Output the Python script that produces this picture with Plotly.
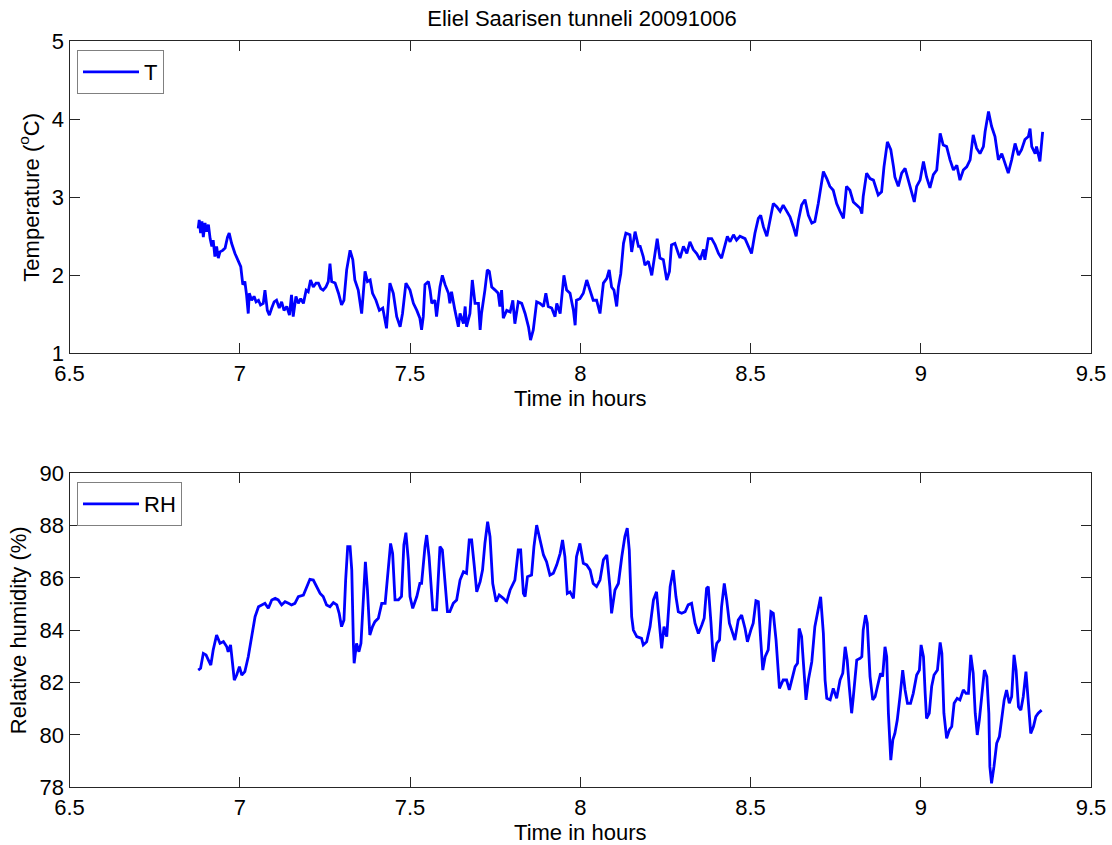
import plotly.graph_objects as go

# Temperature record (hours, degC)
t_time = [6.878, 6.881, 6.885, 6.889, 6.893, 6.898, 6.903, 6.908, 6.913, 6.918, 6.922, 6.927, 6.932, 6.937,
          6.942, 6.950, 6.957, 6.964, 6.969, 6.976, 6.986, 6.996, 7.003, 7.009, 7.015, 7.020, 7.025, 7.028,
          7.035, 7.042, 7.048, 7.055, 7.061, 7.069, 7.074, 7.081, 7.087, 7.094, 7.101, 7.108, 7.116, 7.123,
          7.130, 7.138, 7.146, 7.152, 7.157, 7.165, 7.172, 7.179, 7.187, 7.195, 7.201, 7.208, 7.216, 7.224,
          7.231, 7.238, 7.245, 7.253, 7.260, 7.265, 7.270, 7.280, 7.290, 7.299, 7.306, 7.314, 7.324, 7.332,
          7.338, 7.348, 7.358, 7.368, 7.375, 7.383, 7.390, 7.400, 7.410, 7.420, 7.427, 7.431, 7.441, 7.451,
          7.461, 7.471, 7.478, 7.488, 7.500, 7.510, 7.520, 7.529,
          7.534, 7.539, 7.544, 7.554, 7.559, 7.564, 7.573, 7.578, 7.588, 7.595, 7.603, 7.613, 7.617, 7.622,
          7.632, 7.642, 7.647, 7.657, 7.662, 7.666, 7.676, 7.683, 7.691, 7.701, 7.706, 7.710, 7.720, 7.727,
          7.733, 7.740, 7.750, 7.759, 7.764, 7.769, 7.774, 7.784, 7.794, 7.802, 7.808, 7.818, 7.828, 7.838,
          7.848, 7.854, 7.862, 7.872, 7.882, 7.892, 7.899, 7.906, 7.916, 7.926, 7.931, 7.941, 7.952, 7.960,
          7.970, 7.980, 7.985, 7.989, 7.999, 8.009, 8.019, 8.029, 8.038, 8.048, 8.058, 8.068, 8.078, 8.085,
          8.092, 8.099, 8.107, 8.112, 8.119, 8.127, 8.134, 8.146, 8.151, 8.161, 8.171,
          8.176, 8.185, 8.190, 8.200, 8.210, 8.220, 8.226, 8.234, 8.244, 8.254, 8.262, 8.268, 8.278, 8.288,
          8.293, 8.303, 8.313, 8.322, 8.332, 8.342, 8.352, 8.362, 8.366, 8.376, 8.386, 8.396, 8.406, 8.415,
          8.425, 8.432, 8.440, 8.450, 8.459, 8.469, 8.484, 8.494, 8.503, 8.513, 8.523, 8.530, 8.538, 8.548,
          8.557, 8.567, 8.577, 8.587, 8.596, 8.606, 8.616, 8.626, 8.634, 8.641, 8.650, 8.660, 8.670, 8.680,
          8.689, 8.699, 8.709, 8.714, 8.724, 8.733, 8.743, 8.753, 8.763, 8.773, 8.782, 8.792, 8.802, 8.812,
          8.822,
          8.827, 8.831, 8.841, 8.851, 8.861, 8.871, 8.875, 8.885, 8.892, 8.902, 8.912, 8.920, 8.924, 8.934,
          8.944, 8.954, 8.964, 8.973, 8.981, 8.988, 8.998, 9.008, 9.017, 9.027, 9.037, 9.047, 9.057, 9.066,
          9.076, 9.086, 9.096, 9.106, 9.115, 9.125, 9.135, 9.145, 9.154, 9.164, 9.174, 9.184, 9.189, 9.199,
          9.208, 9.218, 9.228, 9.238, 9.247, 9.257, 9.267, 9.277, 9.287, 9.296, 9.306, 9.316, 9.321, 9.326,
          9.336, 9.340, 9.350, 9.355, 9.358]
temperature = [2.60, 2.71, 2.54, 2.69, 2.49, 2.67, 2.56, 2.65, 2.47, 2.37, 2.45, 2.24, 2.37, 2.22,
               2.30, 2.32, 2.35, 2.49, 2.54, 2.41, 2.28, 2.17, 2.11, 1.88, 1.92, 1.75, 1.51, 1.77,
               1.68, 1.73, 1.66, 1.68, 1.62, 1.64, 1.81, 1.55, 1.49, 1.58, 1.66, 1.68, 1.58, 1.66,
               1.55, 1.60, 1.49, 1.75, 1.47, 1.73, 1.64, 1.70, 1.64, 1.81, 1.79, 1.94, 1.85, 1.90,
               1.90, 1.83, 1.81, 1.85, 1.92, 2.15, 1.92, 1.90, 1.77, 1.62, 1.68, 2.07, 2.32, 2.20,
               1.94, 1.81, 1.51, 2.05, 1.92, 1.94, 1.77, 1.68, 1.55, 1.58, 1.43, 1.32, 1.90, 1.77,
               1.47, 1.34, 1.51, 1.90, 1.81, 1.64, 1.55, 1.45,
               1.30, 1.47, 1.88, 1.92, 1.81, 1.64, 1.68, 1.47, 1.85, 2.00, 1.88, 1.77, 1.64, 1.79,
               1.55, 1.34, 1.51, 1.38, 1.60, 1.34, 1.51, 1.94, 1.64, 1.64, 1.30, 1.51, 1.81, 2.07,
               2.05, 1.85, 1.81, 1.77, 1.60, 1.81, 1.45, 1.55, 1.53, 1.68, 1.38, 1.66, 1.64, 1.51,
               1.34, 1.17, 1.30, 1.66, 1.64, 1.60, 1.77, 1.60, 1.58, 1.47, 1.64, 1.51, 2.00, 1.81,
               1.77, 1.55, 1.36, 1.68, 1.70, 1.77, 1.94, 1.81, 1.68, 1.68, 1.51, 1.90, 1.96, 2.07,
               1.85, 1.81, 1.60, 1.85, 2.02, 2.41, 2.54, 2.52, 2.30, 2.56, 2.37,
               2.37, 2.24, 2.13, 2.18, 2.00, 2.28, 2.47, 2.22, 2.20, 1.94, 2.05, 2.39, 2.41, 2.28,
               2.22, 2.37, 2.28, 2.43, 2.33, 2.28, 2.20, 2.33, 2.20, 2.47, 2.47, 2.39, 2.28, 2.22,
               2.39, 2.50, 2.43, 2.52, 2.45, 2.50, 2.47, 2.37, 2.28, 2.54, 2.73, 2.77, 2.62, 2.50,
               2.69, 2.92, 2.88, 2.82, 2.90, 2.82, 2.75, 2.62, 2.50, 2.71, 2.90, 2.97, 2.77, 2.67,
               2.69, 2.92, 3.18, 3.33, 3.24, 3.14, 3.09, 2.92, 2.82, 2.73, 3.14, 3.09, 2.94, 2.90,
               2.86,
               2.79, 3.01, 3.31, 3.24, 3.22, 3.09, 3.03, 3.07, 3.39, 3.71, 3.61, 3.39, 3.26, 3.14,
               3.31, 3.37, 3.22, 3.09, 2.94, 3.14, 3.22, 3.46, 3.26, 3.12, 3.29, 3.35, 3.82, 3.67,
               3.65, 3.48, 3.35, 3.41, 3.22, 3.35, 3.39, 3.48, 3.80, 3.63, 3.56, 3.65, 3.84, 4.10,
               3.91, 3.78, 3.48, 3.56, 3.44, 3.31, 3.48, 3.69, 3.54, 3.61, 3.74, 3.78, 3.88, 3.65,
               3.56, 3.65, 3.46, 3.65, 3.84]

# Relative humidity record (hours, %)
rh_time = [6.878, 6.885, 6.893, 6.901, 6.908, 6.915, 6.922, 6.932, 6.942, 6.952, 6.962, 6.966, 6.973, 6.979,
           6.984, 6.991, 6.999, 7.006, 7.015, 7.025, 7.035, 7.045, 7.055, 7.064, 7.074, 7.084, 7.094, 7.104,
           7.113, 7.123, 7.133, 7.143, 7.152, 7.162, 7.172, 7.187, 7.196, 7.206, 7.216, 7.226, 7.236, 7.245,
           7.255, 7.265, 7.275, 7.285, 7.292, 7.299, 7.306, 7.311, 7.317, 7.324, 7.329, 7.334, 7.336, 7.343,
           7.350, 7.356, 7.363, 7.369, 7.375, 7.382, 7.390, 7.397, 7.407, 7.417, 7.427, 7.436, 7.443, 7.449,
           7.456, 7.466, 7.475, 7.482, 7.488, 7.495, 7.500, 7.508, 7.520, 7.529,
           7.534, 7.544, 7.549, 7.556, 7.561, 7.567, 7.578, 7.588, 7.595, 7.603, 7.610, 7.617, 7.627, 7.637,
           7.647, 7.657, 7.666, 7.674, 7.681, 7.689, 7.696, 7.706, 7.713, 7.720, 7.728, 7.735, 7.743, 7.753,
           7.762, 7.774, 7.784, 7.794, 7.808, 7.818, 7.825, 7.833, 7.838, 7.845, 7.857, 7.864, 7.872, 7.882,
           7.892, 7.901, 7.911, 7.921, 7.931, 7.941, 7.948, 7.955, 7.962, 7.970, 7.980, 7.989, 7.999, 8.009,
           8.019, 8.029, 8.038, 8.048, 8.058, 8.068, 8.078, 8.087, 8.092, 8.102, 8.112, 8.122, 8.131, 8.138,
           8.144, 8.151, 8.156, 8.166, 8.180,
           8.185, 8.195, 8.205, 8.215, 8.224, 8.232, 8.239, 8.246, 8.254, 8.264, 8.273, 8.281, 8.288, 8.298,
           8.308, 8.317, 8.327, 8.337, 8.347, 8.357, 8.364, 8.371, 8.376, 8.384, 8.391, 8.401, 8.409, 8.415,
           8.423, 8.430, 8.438, 8.448, 8.454, 8.464, 8.474, 8.484, 8.491, 8.501, 8.508, 8.516, 8.523, 8.530,
           8.536, 8.543, 8.552, 8.560, 8.567, 8.575, 8.585, 8.596, 8.606, 8.614, 8.621, 8.631, 8.638, 8.643,
           8.650, 8.657, 8.663, 8.670, 8.680, 8.689, 8.699, 8.706, 8.714, 8.719, 8.724, 8.734, 8.743, 8.753,
           8.763, 8.771, 8.778, 8.784, 8.790, 8.797, 8.802, 8.812, 8.822,
           8.827, 8.831, 8.838, 8.843, 8.851, 8.859, 8.866, 8.875, 8.882, 8.888, 8.895, 8.900, 8.905, 8.912,
           8.918, 8.924, 8.931, 8.939, 8.947, 8.954, 8.961, 8.970, 8.978, 8.988, 8.996, 9.001, 9.008, 9.013,
           9.017, 9.025, 9.032, 9.039, 9.049, 9.057, 9.062, 9.068, 9.076, 9.084, 9.091, 9.098, 9.107, 9.115,
           9.125, 9.133, 9.140, 9.147, 9.154, 9.160, 9.166, 9.172, 9.179, 9.187, 9.194, 9.200, 9.203, 9.208,
           9.215, 9.223, 9.231, 9.238, 9.245, 9.252, 9.260, 9.267, 9.274, 9.280, 9.287, 9.294, 9.301, 9.309,
           9.316, 9.323, 9.331, 9.338, 9.345, 9.355]
humidity = [82.48, 82.55, 83.12, 83.06, 82.86, 82.67, 83.25, 83.82, 83.50, 83.57, 83.37, 83.18, 83.44, 82.61,
            82.10, 82.29, 82.61, 82.29, 82.42, 82.99, 83.76, 84.52, 84.90, 84.97, 85.03, 84.84, 85.16, 85.22,
            85.16, 84.97, 85.09, 85.03, 84.97, 85.03, 85.29, 85.35, 85.67, 85.95, 85.92, 85.67, 85.41, 85.29,
            84.97, 84.90, 85.06, 84.97, 84.65, 84.14, 84.39, 85.92, 87.20, 87.20, 86.30, 83.37, 82.74, 83.50,
            83.18, 83.50, 85.29, 86.62, 85.54, 83.82, 84.14, 84.33, 84.46, 85.03, 85.03, 86.43, 87.32, 86.94,
            85.16, 85.16, 85.29, 87.26, 87.73, 86.69, 85.29, 84.84, 85.29, 85.79,
            85.79, 87.20, 87.64, 86.81, 85.67, 84.78, 84.78, 87.20, 87.07, 85.92, 84.71, 84.71, 85.03, 85.16,
            85.92, 86.24, 86.18, 87.45, 87.45, 86.43, 85.47, 85.86, 86.30, 87.32, 88.15, 87.58, 85.79, 85.09,
            85.35, 85.22, 85.09, 85.54, 85.92, 87.07, 87.07, 85.41, 85.29, 86.05, 86.11, 87.20, 88.02, 87.45,
            86.88, 86.62, 86.11, 86.18, 86.50, 86.94, 87.45, 86.81, 85.41, 85.47, 85.22, 86.81, 87.32, 86.56,
            86.50, 86.30, 85.79, 85.67, 85.92, 86.69, 86.88, 85.67, 84.65, 85.54, 85.79, 86.81, 87.58, 87.90,
            87.07, 84.52, 84.01, 83.76, 83.69,
            83.44, 83.56, 84.14, 85.16, 85.47, 84.39, 83.31, 84.14, 83.76, 85.67, 86.30, 85.29, 84.71, 84.65,
            84.71, 84.97, 85.03, 84.27, 83.88, 84.20, 84.46, 85.60, 85.67, 84.27, 82.80, 83.50, 83.63, 84.90,
            85.79, 85.16, 84.27, 83.88, 83.63, 84.39, 84.58, 84.07, 83.56, 84.01, 84.27, 85.13, 85.09, 83.63,
            82.48, 82.99, 83.25, 84.71, 84.65, 83.63, 81.78, 82.10, 82.10, 81.72, 82.10, 82.61, 82.74, 84.07,
            83.76, 82.61, 81.34, 82.10, 82.80, 84.14, 84.90, 85.28, 83.88, 82.10, 81.40, 81.34, 81.78, 81.40,
            82.10, 82.36, 83.37, 82.86, 81.85, 80.83, 81.46, 82.86, 82.93,
            82.99, 84.01, 84.58, 84.27, 82.23, 81.34, 81.46, 81.97, 82.36, 82.23, 83.37, 82.99, 80.83, 79.04,
            79.81, 80.06, 80.57, 81.46, 82.48, 81.72, 81.21, 81.21, 81.59, 82.29, 82.48, 83.44, 82.99, 81.59,
            80.63, 80.83, 81.85, 82.29, 82.48, 83.54, 83.12, 80.83, 79.87, 80.19, 80.32, 81.21, 81.40, 81.34,
            81.72, 81.59, 81.59, 83.06, 82.36, 80.83, 80.00, 80.57, 81.59, 82.48, 82.23, 80.83, 78.79, 78.15,
            78.79, 79.68, 79.94, 80.57, 81.34, 81.72, 81.21, 81.46, 83.06, 82.48, 81.08, 80.95, 81.46, 82.42,
            81.34, 80.06, 80.32, 80.70, 80.83, 80.95]

x_ticks = [6.5, 7, 7.5, 8, 8.5, 9, 9.5]
t_ticks = [1, 2, 3, 4, 5]
rh_ticks = [78, 80, 82, 84, 86, 88, 90]

W, H = 1112, 845
FONT = "Liberation Sans, Arial, Helvetica, sans-serif"
FS = 22
AX = "#262626"
BLUE = "#0000ff"

fig = go.Figure()
fig.add_trace(go.Scatter(x=t_time, y=temperature, mode="lines", name="T",
                         line=dict(color=BLUE, width=2.8), xaxis="x", yaxis="y", legend="legend"))
fig.add_trace(go.Scatter(x=rh_time, y=humidity, mode="lines", name="RH",
                         line=dict(color=BLUE, width=2.8), xaxis="x2", yaxis="y2", legend="legend2"))

x_dom = [69.5 / W, 1091 / W]
top_dom = [1 - 353.3 / H, 1 - 41.3 / H]
bot_dom = [1 - 787.3 / H, 1 - 473.3 / H]

def xaxis(anchor):
    return dict(domain=x_dom, anchor=anchor, range=[6.5, 9.5], tickvals=x_ticks,
                ticktext=[f"{v:g}" for v in x_ticks], ticks="inside", ticklen=10, tickcolor=AX,
                showline=True, linecolor=AX, linewidth=1, mirror="ticks", showgrid=False,
                zeroline=False, automargin=False,
                tickfont=dict(size=FS, color="black", family=FONT),
                title=dict(text="Time in hours", font=dict(size=FS, color="black", family=FONT), standoff=2))

def yaxis(anchor, dom, rng, vals, title, standoff):
    return dict(domain=dom, anchor=anchor, range=rng, tickvals=vals,
                ticks="inside", ticklen=10, tickcolor=AX,
                showline=True, linecolor=AX, linewidth=1, mirror="ticks", showgrid=False,
                zeroline=False, automargin=False,
                tickfont=dict(size=FS, color="black", family=FONT),
                title=dict(text=title, font=dict(size=FS, color="black", family=FONT), standoff=standoff))

legend_style = dict(bgcolor="white", bordercolor="#808080", borderwidth=1,
                    font=dict(size=FS, color="black", family=FONT),
                    xanchor="left", yanchor="top", tracegroupgap=0, itemwidth=56)

fig.update_layout(
    width=W, height=H,
    margin=dict(l=0, r=0, t=0, b=0, autoexpand=False),
    paper_bgcolor="white", plot_bgcolor="white",
    font=dict(family=FONT, color="black"),
    xaxis=xaxis("y"),
    yaxis=yaxis("x", top_dom, [1, 5], t_ticks, "Temperature (<sup>o</sup>C)", 6),
    xaxis2=xaxis("y2"),
    yaxis2=yaxis("x2", bot_dom, [78, 90], rh_ticks, "Relative humidity (%)", 6),
    legend=dict(x=77 / W, y=1 - 50 / H, **legend_style),
    legend2=dict(x=77 / W, y=1 - 482 / H, **legend_style),
    title=dict(text="Eliel Saarisen tunneli 20091006", x=582 / W, xanchor="center",
               y=1 - 18.5 / H, yanchor="middle", font=dict(size=FS, color="black", family=FONT)),
    showlegend=True,
)

fig.write_html("out.html")
